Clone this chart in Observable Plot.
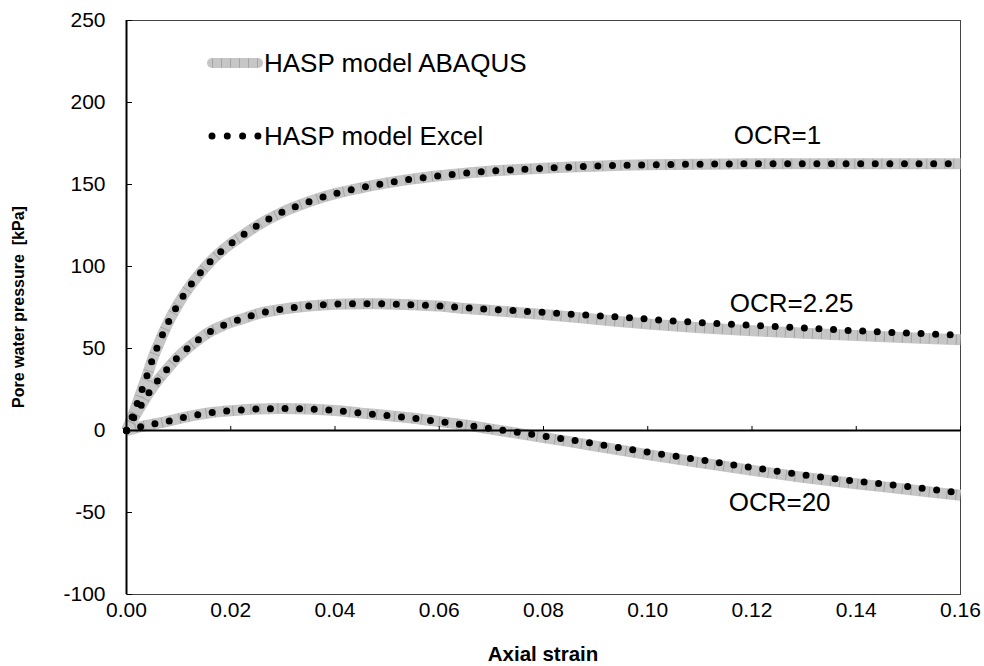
<!DOCTYPE html>
<html><head><meta charset="utf-8">
<script src="https://cdn.jsdelivr.net/npm/d3@7"></script>
<script src="https://cdn.jsdelivr.net/npm/@observablehq/plot@0.6"></script>
<style>
body{margin:0;background:#fff;font-family:"Liberation Sans",Arial,sans-serif;}
#wrap{position:relative;width:984px;height:666px;overflow:hidden;}
#wrap svg{display:block;}
.ytitle{position:absolute;left:19px;top:307px;transform:translate(-50%,-50%) rotate(-90deg);font-weight:bold;font-size:16px;white-space:pre;color:#000;}
.xtitle{position:absolute;left:543px;top:654px;transform:translate(-50%,-50%);font-weight:bold;font-size:20.5px;color:#000;white-space:pre;}
.leg{position:absolute;left:206px;font-size:26px;display:flex;align-items:center;color:#000;line-height:1;}
</style></head><body><div id="wrap"></div>
<script>
// ---- data ----
const strain = [0,0.001,0.002,0.003,0.004,0.005,0.006,0.007,0.008,0.010,0.012,0.014,0.016,0.018,0.020,0.022,0.025,0.030,0.035,0.040,0.045,0.050,0.055,0.060,0.065,0.070,0.075,0.080,0.085,0.090,0.095,0.100,0.110,0.120,0.130,0.140,0.150,0.160];

const excelOCR1  = [0,7.5,16,25,34,43.5,51.5,59,65.8,77.5,87.3,95.5,102.7,108.7,113.9,118.4,124.8,133.3,139.5,144.4,148,151,153.4,155.3,156.9,158.2,159.1,159.9,160.6,161.2,161.7,162,162.4,162.6,162.7,162.7,162.7,162.6];
const abaqusOCR1 = [0,7.5,16,25,34,43.5,51.5,59,65.8,77.5,87.3,95.5,102.7,108.7,113.9,118.4,124.8,133.3,139.5,144.4,148,151,153.4,155.3,156.9,158.2,159.1,159.9,160.6,161.2,161.7,162,162.4,162.6,162.7,162.7,162.7,162.6];

const excelOCR225  = [0,5.5,11,16.3,21.5,26.2,30.5,34.4,38.2,45.2,50.9,55.9,60.2,63.3,65.9,67.9,71,74,75.9,77,77.3,77.2,76.6,75.9,74.8,73.9,73,72,71,70,69.1,67.9,65.8,64.1,62.5,60.8,59.4,58.2];
const abaqusOCR225 = [0,5.5,11,16.3,21.5,26.2,30.5,34.4,38.2,45.2,50.9,55.9,60.2,63.3,65.9,67.9,71,74,75.9,77,77.3,77.2,76.6,75.9,74.4,73.2,72,70.7,69.3,67.8,66.3,65,62.6,60.8,59.3,57.9,56.6,55.3];

const excelOCR20  = [0,0.8,1.7,2.5,3.2,3.8,4.4,5,5.7,7.2,8.6,9.8,10.8,11.5,12,12.5,13.1,13.4,13.1,12.2,10.6,9.1,7.5,5.4,3.4,1.1,-1.1,-3.4,-5.6,-8.1,-10.7,-13.2,-17.9,-22.6,-27.1,-30.9,-34.2,-38];
const abaqusOCR20 = [0,0.8,1.7,2.5,3.2,3.8,4.4,5,5.7,7.2,8.6,9.8,10.8,11.5,12,12.5,13.1,13.4,13.1,12.2,10.6,9.1,7.5,5.4,3.4,0.8,-1.7,-4.3,-6.8,-9.5,-12.1,-14.7,-19.6,-24.3,-28.7,-32.5,-36,-39.5];

const ocrLabels = ["OCR=1","OCR=2.25","OCR=20"];
const ocrLabelX = [0.1249,0.1276,0.1253];
const ocrLabelY = [179.9,77.4,-43.9];

const xTicks = [0,0.02,0.04,0.06,0.08,0.10,0.12,0.14,0.16];
const yTicks = [-100,-50,0,50,100,150,200,250];
const xTitle = "Axial strain";
const yTitle = "Pore water pressure  [kPa]";
const legendLabels = ["HASP model ABAQUS","HASP model Excel"];

// ---- build tables ----
const series = [
  {name:"OCR=1", excel:excelOCR1, abaqus:abaqusOCR1},
  {name:"OCR=2.25", excel:excelOCR225, abaqus:abaqusOCR225},
  {name:"OCR=20", excel:excelOCR20, abaqus:abaqusOCR20}
];
const excelRows = series.flatMap(s => strain.map((x,i)=>({curve:s.name, x, y:s.excel[i]})));
const abaqusRows = series.flatMap(s => strain.map((x,i)=>({curve:s.name, x, y:s.abaqus[i]})));
const labelRows = ocrLabels.map((t,i)=>({t, x:ocrLabelX[i], y:ocrLabelY[i]}));

const W = 984, H = 666, mL = 126, mR = 24, mT = 20, mB = 72;
const xDom = [0,0.16], yDom = [-100,250];
const plotW = W - mL - mR, plotH = H - mT - mB;
const zeroOffset = (yDom[1]-0)/(yDom[1]-yDom[0])*plotH;

const chart = Plot.plot({
  width: W, height: H,
  marginLeft: mL, marginRight: mR, marginTop: mT, marginBottom: mB,
  x: {domain: xDom, label: null},
  y: {domain: yDom, label: null},
  style: {fontFamily: "'Liberation Sans', Arial, sans-serif", fontSize: "21px", color: "#000", background: "#fff"},
  marks: [
    Plot.frame({stroke: "#444", strokeWidth: 1}),
    // ABAQUS: thick grey hatched band
    Plot.line(abaqusRows, {x:"x", y:"y", z:"curve", stroke:"#c6c6c6", strokeWidth: 11, strokeLinecap:"butt", strokeLinejoin:"round", curve:"monotone-x"}),
    Plot.line(abaqusRows, {x:"x", y:"y", z:"curve", stroke:"#a4a4a4", strokeWidth: 10, strokeDasharray:"1 8", strokeLinecap:"butt", curve:"monotone-x"}),
    // axes lines
    Plot.ruleY([0], {stroke:"#000", strokeWidth: 2}),
    Plot.ruleX([0], {stroke:"#000", strokeWidth: 2}),
    // ticks on the zero line, pointing up
    Plot.axisX({anchor:"top", ticks: xTicks, tickSize: 5, text: null, label: null, dy: zeroOffset, stroke:"#000"}),
    // ticks on the left axis, pointing inward
    Plot.axisY({anchor:"right", ticks: yTicks, tickSize: 5, text: null, label: null, dx: -plotW, stroke:"#000"}),
    // tick labels
    Plot.axisX({anchor:"bottom", ticks: xTicks, tickSize: 0, tickPadding: 8, tickFormat: d3.format(".2f"), label: null}),
    Plot.axisY({anchor:"left", ticks: yTicks, tickSize: 0, tickPadding: 21, tickFormat: d => String(d), label: null}),
    // Excel: round dotted line
    Plot.line(excelRows, {x:"x", y:"y", z:"curve", stroke:"#000", strokeWidth: 7, strokeDasharray:"0 14.6", strokeLinecap:"round", curve:"monotone-x"}),
    Plot.text(labelRows, {x:"x", y:"y", text:"t", fontSize: 26, fill:"#000"})
  ]
});

const wrap = document.getElementById("wrap");
wrap.appendChild(chart);

const yt = document.createElement("div"); yt.className = "ytitle"; yt.textContent = yTitle; wrap.appendChild(yt);
const xt = document.createElement("div"); xt.className = "xtitle"; xt.textContent = xTitle; wrap.appendChild(xt);

// legend
const legTops = [50, 123];
legendLabels.forEach((lab, i) => {
  const d = document.createElement("div");
  d.className = "leg";
  d.style.top = legTops[i] + "px";
  const ns = "http://www.w3.org/2000/svg";
  const s = document.createElementNS(ns, "svg");
  s.setAttribute("width", 58); s.setAttribute("height", 24);
  if (i === 0) {
    s.innerHTML = '<line x1="6" y1="12" x2="52" y2="12" stroke="#c6c6c6" stroke-width="10" stroke-linecap="round"/>' +
                  '<line x1="6" y1="12" x2="52" y2="12" stroke="#a4a4a4" stroke-width="9" stroke-dasharray="1 8"/>';
  } else {
    s.innerHTML = '<line x1="6" y1="12" x2="52" y2="12" stroke="#000" stroke-width="7" stroke-linecap="round" stroke-dasharray="0 15.3"/>';
  }
  d.appendChild(s);
  const t = document.createElement("span"); t.textContent = lab; d.appendChild(t);
  wrap.appendChild(d);
});
</script>
</body></html>
